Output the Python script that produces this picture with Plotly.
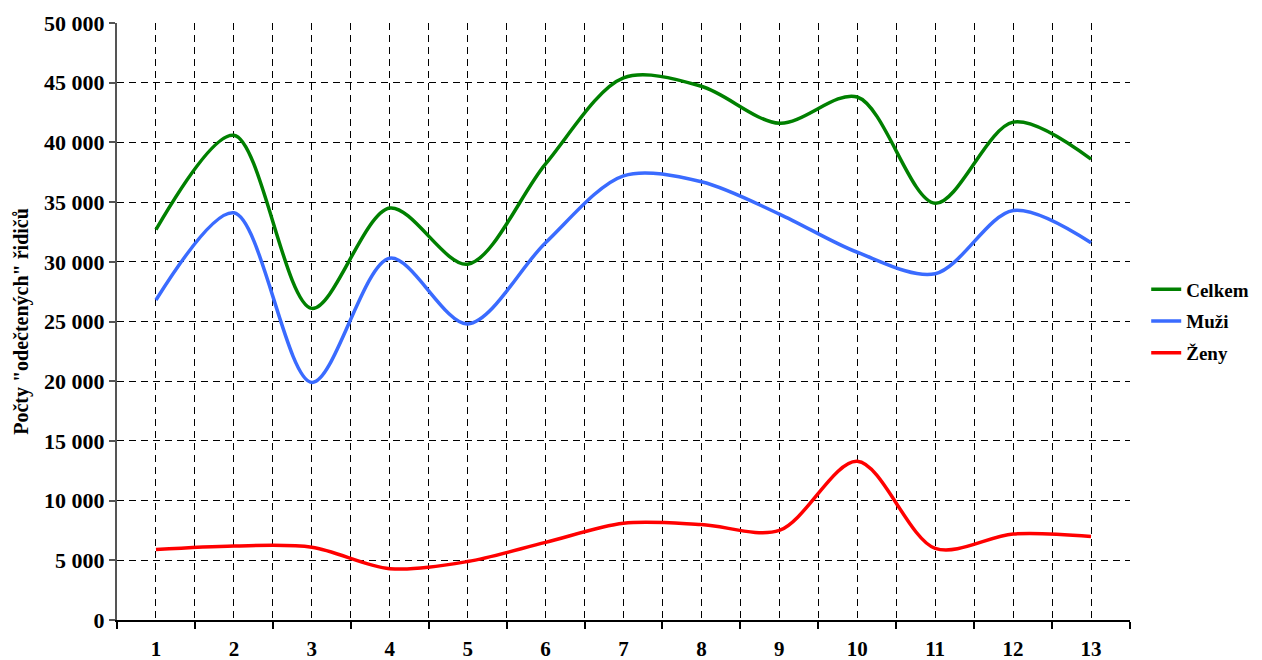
import plotly.graph_objects as go

categories = list(range(1, 14))
x_labels = [str(c) for c in categories]

celkem = [32700, 40600, 26100, 34500, 29800, 38200, 45400, 44700, 41600, 43800, 34900, 41700, 38600]
muzi = [26800, 34100, 19900, 30300, 24800, 31600, 37200, 36700, 34000, 30800, 29000, 34300, 31600]
zeny = [5900, 6200, 6100, 4300, 4900, 6500, 8100, 8000, 7500, 13300, 6000, 7200, 7000]

series_names = ["Celkem", "Muži", "Ženy"]
series_values = [celkem, muzi, zeny]
series_colors = ["#008000", "#3A6BFF", "#FF0000"]

y_ticks = list(range(0, 50001, 5000))

FONT = "Liberation Serif"

fig = go.Figure()
for name, vals, col in zip(series_names, series_values, series_colors):
    fig.add_trace(go.Scatter(
        x=categories, y=vals, name=name, mode="lines",
        line=dict(color=col, width=3.5, shape="spline", smoothing=0.9),
        legendgroup=name,
    ))

fig.update_layout(
    width=1254, height=652,
    margin=dict(l=109, r=132, t=15, b=40, autoexpand=False),
    paper_bgcolor="white", plot_bgcolor="white",
    separators=", ",
    font=dict(family=FONT, size=19, color="black"),
    showlegend=True,
    legend=dict(
        x=1.016, y=0.5, xanchor="left", yanchor="middle",
        font=dict(family=FONT, size=19, color="black", weight="bold"),
        tracegroupgap=4, bgcolor="rgba(0,0,0,0)",
    ),
    xaxis=dict(
        range=[0.5, 13.5], automargin=False,
        tickmode="array", tickvals=categories, ticktext=x_labels,
        tickfont=dict(family=FONT, size=21, color="black", weight="bold"),
        ticks="", showgrid=True, gridcolor="black", griddash="7px,5px", gridwidth=1,
        showline=True, linecolor="black", linewidth=2,
        zeroline=False,
        minor=dict(tick0=0.5, dtick=1, ticks="outside", ticklen=7, tickcolor="black",
                   tickwidth=1.5, showgrid=True, gridcolor="black", griddash="7px,5px", gridwidth=1),
        ticklabelstandoff=9,
    ),
    yaxis=dict(
        range=[0, 50000], automargin=False,
        tickmode="array", tickvals=y_ticks,
        tickformat=",d",
        tickfont=dict(family=FONT, size=22, color="black", weight="bold"),
        ticks="outside", ticklen=6, tickcolor="#555555", tickwidth=1.5,
        showgrid=True, gridcolor="black", griddash="7px,5px", gridwidth=1,
        showline=True, linecolor="#555555", linewidth=2,
        zeroline=False,
        title=dict(text='Počty "odečtených" řidičů',
                   font=dict(family=FONT, size=20, color="black", weight="bold"),
                   standoff=10),
    ),
)

fig.write_html("out.html")
